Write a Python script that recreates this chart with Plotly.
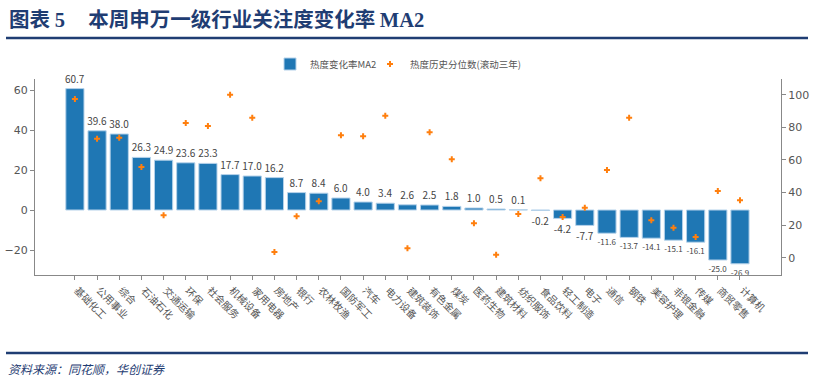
import plotly.graph_objects as go

categories = ["基础化工", "公用事业", "综合", "石油石化", "交通运输", "环保", "社会服务", "机械设备",
              "家用电器", "房地产", "银行", "农林牧渔", "国防军工", "汽车", "电力设备", "建筑装饰",
              "有色金属", "煤炭", "医药生物", "建筑材料", "纺织服饰", "食品饮料", "轻工制造", "电子",
              "通信", "钢铁", "美容护理", "非银金融", "传媒", "商贸零售", "计算机"]
heat_change_ma2 = [60.7, 39.6, 38.0, 26.3, 24.9, 23.6, 23.3, 17.7, 17.0, 16.2, 8.7, 8.4, 6.0, 4.0,
                   3.4, 2.6, 2.5, 1.8, 1.0, 0.5, 0.1, -0.2, -4.2, -7.7, -11.6, -13.7, -14.1, -15.1,
                   -16.1, -25.0, -26.9]
heat_percentile = [97.4, 73.0, 73.6, 55.6, 26.0, 82.6, 80.8, 100.0, 85.9, 3.5, 25.4, 34.6, 75.1,
                   74.5, 87.1, 5.8, 76.9, 60.4, 21.1, 1.8, 26.8, 48.7, 25.0, 30.7, 53.8, 85.9, 22.9,
                   18.4, 12.7, 40.9, 35.2]
left_ticks = [-20, 0, 20, 40, 60]
right_ticks = [0, 20, 40, 60, 80, 100]

FONT = "Noto Sans CJK SC"
NAVY = "#1f3d73"
GRAY = "#555555"

# plot area in pixels: x 35..781, y 79..275
L, R, T, B = 35, 781, 79, 275
W, H = 814, 383
pw, ph = R - L, B - T


def px(x):
    return (x - L) / pw


def py(y):
    return (B - y) / ph


label_sizes = [8 if v < -10 else 10 for v in heat_change_ma2]

fig = go.Figure()
fig.add_trace(go.Bar(
    x=categories, y=heat_change_ma2, name="热度变化率MA2", legend="legend",
    marker=dict(color="#1f77b4", line=dict(color="#b5d2ea", width=1)),
    width=0.82,
    text=[f"{v:.1f}" for v in heat_change_ma2],
    textposition="outside", constraintext="none", cliponaxis=False,
    textfont=dict(family=FONT, size=label_sizes, color="#444444"),
))
fig.add_trace(go.Scatter(
    x=categories, y=heat_percentile, name="热度历史分位数(滚动三年)", legend="legend2",
    mode="markers", yaxis="y2",
    marker=dict(color="#ff7f0e", symbol="cross", size=5),
))

axis_common = dict(showgrid=False, zeroline=False, showline=True, linecolor="#888888",
                   linewidth=1, ticks="outside", ticklen=4, tickcolor="#888888", automargin=False,
                   tickfont=dict(family="DejaVu Sans", size=11, color=GRAY))

title_html = ("<b>图表 <span style='font-family:Liberation Serif'>5</span>"
              "&nbsp;&nbsp;&nbsp;&nbsp;&nbsp;本周申万一级行业关注度变化率 "
              "<span style='font-family:Liberation Serif'>MA2</span></b>")

annotations = [
    dict(text=title_html, xref="paper", yref="paper",
         x=px(7), y=py(18), xanchor="left", yanchor="middle", showarrow=False,
         font=dict(family=FONT, size=20.5, color=NAVY)),
    dict(text="<i>资料来源：同花顺，华创证券</i>", xref="paper", yref="paper",
         x=px(6), y=py(368), xanchor="left", yanchor="middle", showarrow=False,
         font=dict(family=FONT, size=12, color=NAVY)),
]
for c in categories:
    annotations.append(dict(text=c, xref="x", yref="paper", x=c, y=py(280), xanchor="left",
                            yanchor="top", textangle=45, showarrow=False, xshift=-6,
                            font=dict(family=FONT, size=10, color=GRAY)))

legend_common = dict(orientation="h", yanchor="middle", y=py(64), xanchor="left",
                     font=dict(family=FONT, size=9.5, color=GRAY), itemwidth=30,
                     bgcolor="rgba(0,0,0,0)")

fig.update_layout(
    width=W, height=H,
    margin=dict(l=L, r=W - R, t=T, b=H - B, pad=0, autoexpand=False),
    paper_bgcolor="white", plot_bgcolor="white",
    showlegend=True,
    legend=dict(x=px(270), **legend_common),
    legend2=dict(x=px(370), **legend_common),
    xaxis=dict(range=[-1.8, 31.85], showticklabels=False, showgrid=False, zeroline=False,
               showline=True, linecolor="#888888", ticks="outside", ticklen=4,
               tickcolor="#888888", automargin=False),
    yaxis=dict(range=[-32.5, 65.5], tickvals=left_ticks,
               ticktext=[str(t).replace("-", "−") for t in left_ticks], **axis_common),
    yaxis2=dict(range=[-10.6, 109.6], tickvals=right_ticks, overlaying="y", side="right",
                **axis_common),
    shapes=[
        dict(type="line", xref="paper", yref="paper", x0=px(6), x1=px(808), y0=py(38), y1=py(38),
             line=dict(color=NAVY, width=2.5)),
        dict(type="line", xref="paper", yref="paper", x0=px(6), x1=px(808), y0=py(353), y1=py(353),
             line=dict(color=NAVY, width=2.5)),
    ],
    annotations=annotations,
)

fig.write_html("out.html", config={"displayModeBar": False},
               post_script="document.body.style.margin='0';document.body.style.overflow='hidden';")
